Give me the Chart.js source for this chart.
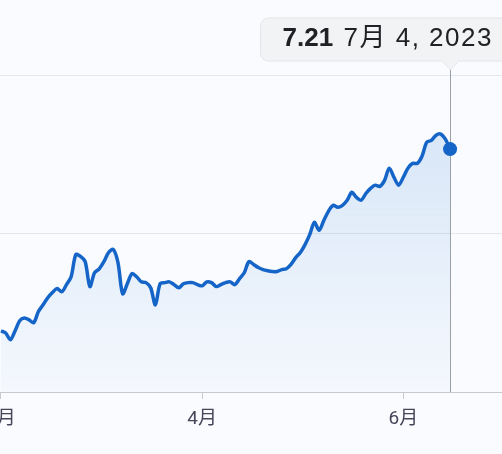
<!DOCTYPE html>
<html>
<head>
<meta charset="utf-8">
<script src="https://cdn.jsdelivr.net/npm/chart.js@4.4.0/dist/chart.umd.min.js"></script>
<style>
html,body{margin:0;padding:0;background:#f9fbfe;overflow:hidden;width:502px;height:454px}
#wrap{position:absolute;left:-40px;top:0;width:542px;height:454px}
</style>
</head>
<body>
<div id="wrap"><canvas id="myChart"></canvas></div>
<script>
// USD/CNY daily close, Feb - Jun 2023
var rate = [
	6.754, 6.749, 6.732, 6.754, 6.780, 6.787, 6.782, 6.775, 6.803, 6.820,
	6.838, 6.851, 6.861, 6.853, 6.871, 6.891, 6.947, 6.942, 6.929, 6.866,
	6.901, 6.911, 6.929, 6.952, 6.960, 6.927, 6.848, 6.873, 6.899, 6.891,
	6.878, 6.876, 6.863, 6.820, 6.873, 6.876, 6.878, 6.871, 6.863, 6.873,
	6.876, 6.876, 6.871, 6.868, 6.878, 6.876, 6.866, 6.871, 6.876, 6.878,
	6.871, 6.886, 6.901, 6.929, 6.922, 6.914, 6.909, 6.906, 6.904, 6.904,
	6.909, 6.911, 6.922, 6.939, 6.952, 6.972, 6.997, 7.028, 7.008, 7.033,
	7.056, 7.071, 7.066, 7.071, 7.084, 7.104, 7.091, 7.084, 7.101, 7.114,
	7.122, 7.119, 7.134, 7.165, 7.142, 7.122, 7.142, 7.165, 7.177, 7.177,
	7.195, 7.230, 7.235, 7.248, 7.251, 7.238, 7.213
]
var tickPos = [0, 43, 86]
var tickLabels = ['2月', '4月', '6月']
var tipDate = '7月 4, 2023'
var yMin = 6.6, yMax = 7.4, yStep = 0.4
var xMin = -0.21, xMax = 107.1

var lineColor = '#1565c8'
var last = rate.length - 1

var points = []
for (var i = 0; i < rate.length; i++) {
	points.push({x: i, y: rate[i]})
}

var tipPlugin = {
	id: 'tip',
	beforeDatasetsDraw: function(chart) {
		var c = chart.ctx
		var px = Math.round(chart.scales.x.getPixelForValue(last)) + 0.5
		c.save()
		c.strokeStyle = '#9aa0a6'
		c.lineWidth = 1
		c.beginPath()
		c.moveTo(px, 70)
		c.lineTo(px, chart.chartArea.bottom)
		c.stroke()
		c.restore()
	},
	afterDraw: function(chart) {
		var c = chart.ctx
		var px = Math.round(chart.scales.x.getPixelForValue(last)) + 0.5
		var left = px - 190, top = 18, bottom = 61, right = chart.width + 20, r = 8
		c.save()
		c.fillStyle = '#f1f3f4'
		c.strokeStyle = '#e3e5e8'
		c.lineWidth = 1
		c.beginPath()
		c.moveTo(left + r, top)
		c.lineTo(right, top)
		c.lineTo(right, bottom)
		c.lineTo(px + 8, bottom)
		c.lineTo(px, bottom + 9)
		c.lineTo(px - 8, bottom)
		c.lineTo(left + r, bottom)
		c.arcTo(left, bottom, left, bottom - r, r)
		c.lineTo(left, top + r)
		c.arcTo(left, top, left + r, top, r)
		c.closePath()
		c.fill()
		c.stroke()
		c.fillStyle = '#202124'
		c.textBaseline = 'middle'
		c.font = 'bold 26px "Liberation Sans", "Noto Sans CJK SC", sans-serif'
		c.fillText(rate[last].toFixed(2), px - 168, 39)
		c.font = '26px "Liberation Sans", "Noto Sans CJK SC", sans-serif'
		c.letterSpacing = '1.5px'
		c.fillText(tipDate, px - 107, 39)
		c.restore()
	}
}

var ctx = document.getElementById('myChart').getContext('2d')
var grad = ctx.createLinearGradient(0, 130, 0, 392)
grad.addColorStop(0, 'rgba(26,110,210,0.14)')
grad.addColorStop(1, 'rgba(26,110,210,0.02)')

var chart = new Chart(ctx, {
	type: 'line',
	data: {
		datasets: [{
			data: points,
			borderColor: lineColor,
			borderWidth: 3.5,
			backgroundColor: grad,
			fill: 'start',
			tension: 0.3,
			borderJoinStyle: 'round',
			pointRadius: function(c) { return c.dataIndex === last ? 7 : 0 },
			pointBackgroundColor: lineColor,
			pointBorderWidth: 0
		}]
	},
	options: {
		responsive: true,
		maintainAspectRatio: false,
		animation: false,
		events: [],
		layout: {autoPadding: false, padding: {left: 40, top: 75, right: 0, bottom: 0}},
		plugins: {legend: {display: false}, tooltip: {enabled: false}},
		scales: {
			x: {
				type: 'linear',
				min: xMin,
				max: xMax,
				afterBuildTicks: function(s) {
					s.ticks = tickPos.map(function(v) { return {value: v} })
				},
				afterFit: function(s) { s.height = 62 },
				grid: {drawOnChartArea: false, drawTicks: true, tickLength: 7, color: '#c8cacd'},
				border: {color: '#c8cacd'},
				ticks: {
					padding: 9,
					color: '#48445a',
					font: {size: 19, family: 'Roboto, "Noto Sans CJK SC", sans-serif'},
					maxRotation: 0,
					autoSkip: false,
					callback: function(v) { return tickLabels[tickPos.indexOf(v)] }
				}
			},
			y: {
				min: yMin,
				max: yMax,
				ticks: {display: false, stepSize: yStep},
				grid: {color: '#e4e7eb', drawTicks: false},
				border: {display: false}
			}
		}
	},
	plugins: [tipPlugin]
})
</script>
</body>
</html>
